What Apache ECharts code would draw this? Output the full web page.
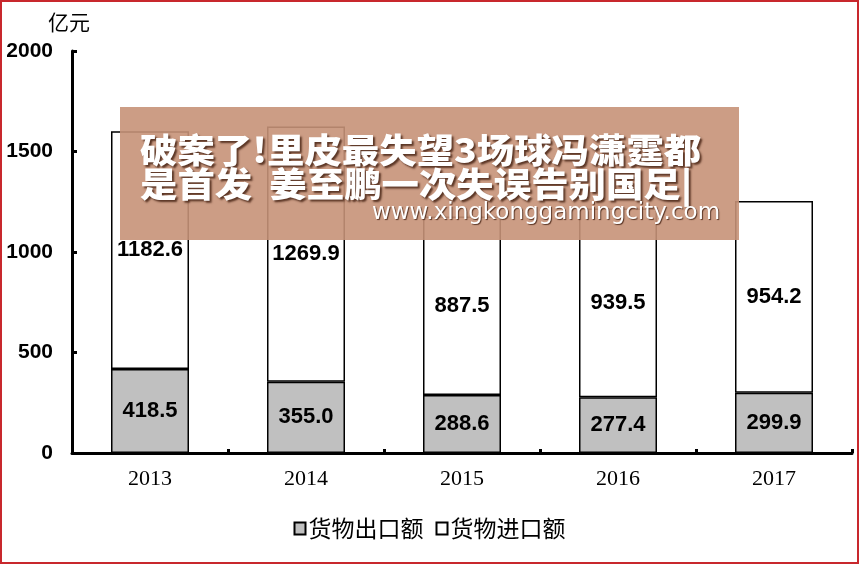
<!DOCTYPE html>
<html><head><meta charset="utf-8">
<script src="https://cdn.jsdelivr.net/npm/echarts@6/dist/echarts.min.js"></script>
<style>html,body{margin:0;padding:0;background:#fff}#c{width:859px;height:564px;box-sizing:border-box;border:2px solid #c8282d;}</style>
</head><body><div id="c"></div>
<script>
const years = ['2013','2014','2015','2016','2017'];
const exportVals = [418.5, 355.0, 288.6, 277.4, 299.9];
const importVals = [1182.6, 1269.9, 887.5, 939.5, 954.2];
const yTicks = [0, 500, 1000, 1500, 2000];
const seriesNames = ['货物出口额', '货物进口额'];
const unitLabel = '亿元';
const overlayLines = ['破案了!里皮最失望3场球冯潇霆都', '是首发  姜至鹏一次失误告别国足|'];
const overlayUrl = 'www.xingkonggamingcity.com';

const chart = echarts.init(document.getElementById('c'));
const labelStyle = {show: true, position: 'inside', color: '#000', fontFamily: 'Liberation Sans, Arial', fontWeight: 'bold', fontSize: 22};
const shadow = {textShadowColor: 'rgba(70,35,20,0.85)', textShadowBlur: 2, textShadowOffsetX: 2, textShadowOffsetY: 2};
chart.setOption({
  animation: false,
  grid: {left: 70, right: 5, top: 49, bottom: 109},
  legend: {
    bottom: 17, left: 'center', itemWidth: 11, itemHeight: 12, itemGap: 12,
    icon: 'rect',
    textStyle: {fontFamily: 'Noto Sans CJK SC', fontSize: 23, color: '#000', padding: [0, 0, 0, -2]},
    data: seriesNames
  },
  xAxis: {
    type: 'category', data: years,
    axisLine: {lineStyle: {color: '#000', width: 3}},
    axisTick: {show: true, inside: true, length: 4, lineStyle: {color: '#000', width: 3}},
    axisLabel: {fontFamily: 'Liberation Serif', fontSize: 22, color: '#000', margin: 15}
  },
  yAxis: {
    type: 'value', min: 0, max: 2000, interval: 500,
    name: unitLabel, nameLocation: 'end', nameGap: 18,
    nameTextStyle: {fontFamily: 'Noto Sans CJK SC', fontSize: 21, color: '#000', align: 'center', padding: [0, 0, 0, -6]},
    axisLine: {show: true, lineStyle: {color: '#000', width: 3}},
    axisTick: {show: true, inside: true, length: 5, lineStyle: {color: '#000', width: 3}},
    splitLine: {show: false},
    axisLabel: {fontFamily: 'Liberation Sans, Arial', fontWeight: 'bold', fontSize: 21, color: '#000', margin: 19,
      formatter: v => yTicks.includes(v) ? String(v) : ''}
  },
  series: [
    {name: seriesNames[0], type: 'bar', stack: 't', barWidth: '50%', data: exportVals,
     itemStyle: {color: '#c0c0c0', borderColor: '#000', borderWidth: 1.5},
     label: Object.assign({}, labelStyle, {formatter: p => p.value.toFixed(1)})},
    {name: seriesNames[1], type: 'bar', stack: 't', barWidth: '50%', data: importVals,
     itemStyle: {color: '#fff', borderColor: '#000', borderWidth: 1.5},
     label: Object.assign({}, labelStyle, {formatter: p => p.value.toFixed(1)})}
  ],
  graphic: [
    {type: 'rect', x: 118, y: 105, shape: {width: 619, height: 133}, style: {fill: 'rgba(198,146,120,0.9)'}, z: 100},
    {type: 'text', x: 138, y: 148, scaleX: 1.1, z: 101, style: Object.assign({text: overlayLines[0], fill: '#fff', font: '900 34px "Noto Sans CJK SC"', verticalAlign: 'middle'}, shadow)},
    {type: 'text', x: 138, y: 182, scaleX: 1.1, z: 101, style: Object.assign({text: overlayLines[1], fill: '#fff', font: '900 34px "Noto Sans CJK SC"', verticalAlign: 'middle'}, shadow)},
    {type: 'text', x: 370, y: 211, z: 101, style: {text: overlayUrl, fill: '#fff', font: '23px "DejaVu Sans"', verticalAlign: 'middle', textShadowColor: 'rgba(70,35,20,0.85)', textShadowBlur: 1, textShadowOffsetX: 1, textShadowOffsetY: 1}}
  ]
});
</script></body></html>
